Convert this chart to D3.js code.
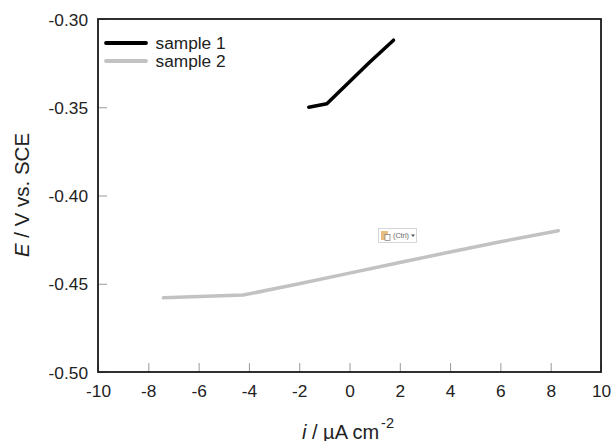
<!DOCTYPE html>
<html><head><meta charset="utf-8">
<style>html,body{margin:0;padding:0;background:#fff}svg{display:block}text{font-family:"Liberation Sans",Arial,sans-serif;fill:#222}</style>
<script src="https://cdn.jsdelivr.net/npm/d3@7/dist/d3.min.js"></script>
</head><body><svg id="c" width="611" height="441"></svg>
<script>
const sample1I=[-1.62,-0.9,0.0,0.8,1.75];
const sample1E=[-0.350,-0.348,-0.3355,-0.3245,-0.312];
const sample2I=[-7.4,-4.23,-2.0,0.0,2.0,4.0,6.0,8.3];
const sample2E=[-0.458,-0.4564,-0.4500,-0.4440,-0.4380,-0.4320,-0.4262,-0.4200];
const seriesNames=["sample 1","sample 2"];
const seriesColors=["#000000","#c2c2c2"];
const xTicks=[-10,-8,-6,-4,-2,0,2,4,6,8,10];
const yTicks=[-0.50,-0.45,-0.40,-0.35,-0.30];

const svg=d3.select("#c");
const L=98,R=601,T=19,B=372;
const x=d3.scaleLinear().domain([-10,10]).range([L,R]);
const y=d3.scaleLinear().domain([-0.5,-0.3]).range([B,T]);

const gx=svg.append("g").attr("transform",`translate(0,${B})`)
  .call(d3.axisBottom(x).tickValues(xTicks).tickFormat(d=>String(d)).tickSizeInner(-9).tickSizeOuter(0));
const gy=svg.append("g").attr("transform",`translate(${L},0)`)
  .call(d3.axisLeft(y).tickValues(yTicks).tickFormat(d=>d.toFixed(2)).tickSizeInner(-9).tickSizeOuter(0).tickPadding(10));
[gx,gy].forEach(g=>{
  g.select(".domain").remove();
  g.selectAll("line").attr("stroke","#999").attr("stroke-width",1);
  g.selectAll("text").style("font-size","17.3px").attr("font-family",null);
});
gx.selectAll("text").attr("y",25).attr("dy",0);
gy.selectAll("text").attr("dy",0).attr("y",6);

svg.append("rect").attr("x",L).attr("y",T).attr("width",R-L).attr("height",B-T)
  .attr("fill","none").attr("stroke","#1a1a1a").attr("stroke-width",1.8);

const line=d3.line().x(d=>x(d[0])).y(d=>y(d[1]));
[[sample2I,sample2E,1],[sample1I,sample1E,0]].forEach(([a,b,i])=>{
  svg.append("path").attr("d",line(a.map((v,k)=>[v,b[k]])))
    .attr("fill","none").attr("stroke",seriesColors[i]).attr("stroke-width",3.5)
    .attr("stroke-linejoin","round").attr("stroke-linecap","round");
});

seriesNames.forEach((n,i)=>{
  const ly=43+i*18;
  svg.append("line").attr("x1",106).attr("x2",146).attr("y1",ly).attr("y2",ly)
    .attr("stroke",seriesColors[i]).attr("stroke-width",3.8).attr("stroke-linecap","round");
  svg.append("text").attr("x",155.5).attr("y",ly+6).style("font-size","17.3px").text(n);
});

const yl=svg.append("text").attr("transform","translate(29,195) rotate(-90)").attr("text-anchor","middle").style("font-size","20.5px");
yl.append("tspan").attr("font-style","italic").text("E");
yl.append("tspan").text(" / V vs. SCE");

const xl=svg.append("text").attr("x",302).attr("y",438.5).style("font-size","20px");
xl.append("tspan").attr("font-style","italic").text("i");
xl.append("tspan").text(" / \u00b5A cm");
xl.append("tspan").attr("dy",-11).attr("dx",2).style("font-size","14.5px").text("-2");

// paste-options button visible in the picture
const b=svg.append("g").attr("transform","translate(378,228)");
b.append("rect").attr("x",0.5).attr("y",0.5).attr("width",38).attr("height",14).attr("fill","#fff").attr("stroke","#d6d6d6");
b.append("rect").attr("x",3).attr("y",3).attr("width",7).attr("height",9).attr("fill","#e8bd80");
b.append("rect").attr("x",7).attr("y",6.5).attr("width",5).attr("height",6).attr("fill","#fff").attr("stroke","#777").attr("stroke-width",0.7);
b.append("text").attr("x",15).attr("y",10).style("font-size","7.2px").style("fill","#666").text("(Ctrl)");
b.append("path").attr("d","M33 6.5h4l-2 2.5z").attr("fill","#555");
</script></body></html>
